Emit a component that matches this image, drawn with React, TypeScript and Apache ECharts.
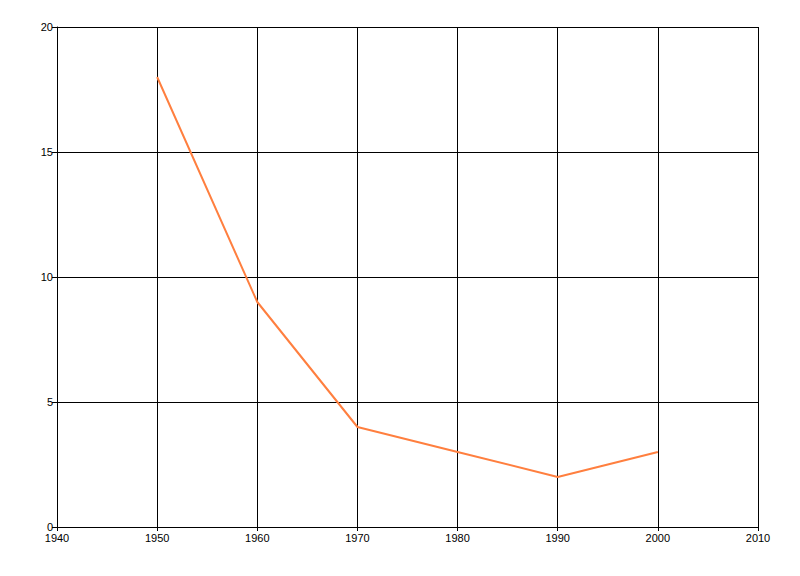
import React, { useEffect, useRef } from "react";
import * as echarts from "echarts";

const years = [1950, 1960, 1970, 1980, 1990, 2000];
const values = [18, 9, 4, 3, 2, 3];

const App: React.FC = () => {
  const chartRef = useRef<HTMLDivElement>(null);

  useEffect(() => {
    document.body.style.margin = "0";
    const chart = echarts.init(chartRef.current, null, { renderer: "svg" });
    chart.setOption({
      animation: false,
      backgroundColor: "#ffffff",
      textStyle: { fontFamily: "Liberation Sans, Arial, sans-serif" },
      grid: { left: 57, right: 42, top: 27, bottom: 49, containLabel: false },
      xAxis: {
        type: "value",
        min: 1940,
        max: 2010,
        interval: 10,
        axisLine: { lineStyle: { color: "#000", width: 1 } },
        axisTick: { show: true, length: 4, lineStyle: { color: "#000" } },
        axisLabel: {
          color: "#000",
          fontSize: 11,
          margin: 5,
          formatter: (v: number) => String(v),
        },
        splitLine: { show: true, lineStyle: { color: "#000", width: 1 } },
      },
      yAxis: {
        type: "value",
        min: 0,
        max: 20,
        interval: 5,
        axisLine: { show: true, lineStyle: { color: "#000", width: 1 } },
        axisTick: { show: true, length: 5, lineStyle: { color: "#000" } },
        axisLabel: { color: "#000", fontSize: 11, margin: 4 },
        splitLine: { show: true, lineStyle: { color: "#000", width: 1 } },
      },
      series: [
        {
          type: "line",
          data: years.map((y, i) => [y, values[i]]),
          symbol: "none",
          lineStyle: { color: "#ff7f3f", width: 2 },
        },
      ],
    });
    return () => chart.dispose();
  }, []);

  return <div ref={chartRef} style={{ width: 800, height: 576 }} />;
};

export default App;
